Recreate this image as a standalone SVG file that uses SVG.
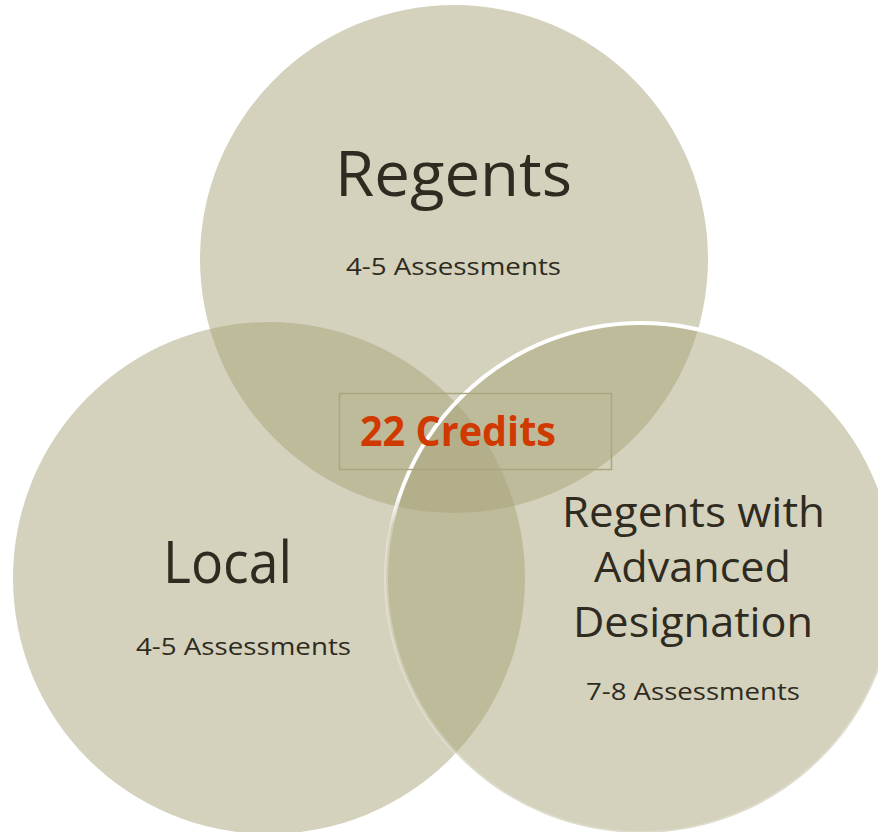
<svg xmlns="http://www.w3.org/2000/svg" width="878" height="832" viewBox="0 0 878 832">
  <defs>
    <linearGradient id="rimGrad" gradientUnits="userSpaceOnUse" x1="0" y1="320" x2="0" y2="835">
      <stop offset="0" stop-color="#ffffff" stop-opacity="1"/>
      <stop offset="0.34" stop-color="#ffffff" stop-opacity="1"/>
      <stop offset="0.40" stop-color="#ffffff" stop-opacity="0.3"/>
      <stop offset="1" stop-color="#ffffff" stop-opacity="0.2"/>
    </linearGradient>
  </defs>
  <style>
    .circ { fill: #A7A378; fill-opacity: 0.49; }
    .title { font-family: "Open Sans", "Liberation Sans", sans-serif; fill: #2F2B21; text-anchor: middle; }
    .sub { font-family: "Open Sans", "Liberation Sans", sans-serif; font-size: 24.5px; fill: #2F2B21; text-anchor: middle; }
    .center { font-family: "Open Sans", "Liberation Sans", sans-serif; font-weight: bold; font-size: 42px; fill: #D03A00; text-anchor: middle; }
  </style>
  <rect width="878" height="832" fill="#ffffff"/>
  <g id="regents">
    <circle class="circ" cx="454" cy="259" r="254"/>
    <text class="title" x="453.5" y="196" font-size="63" textLength="237" lengthAdjust="spacingAndGlyphs">Regents</text>
    <text class="sub" x="453.5" y="275" textLength="215" lengthAdjust="spacingAndGlyphs">4-5 Assessments</text>
  </g>
  <g id="local">
    <circle class="circ" cx="269" cy="578" r="256"/>
    <text class="title" x="227.5" y="583" font-size="59" textLength="129" lengthAdjust="spacingAndGlyphs">Local</text>
    <text class="sub" x="243.5" y="655" textLength="215" lengthAdjust="spacingAndGlyphs">4-5 Assessments</text>
  </g>
  <g id="advanced">
    <circle class="circ" cx="641" cy="578" r="255"/>
    <circle cx="641" cy="578" r="255" fill="none" stroke="url(#rimGrad)" stroke-width="4"/>
    <text class="title" x="693.5" y="527" font-size="42" textLength="263" lengthAdjust="spacingAndGlyphs">Regents with</text>
    <text class="title" x="692.5" y="582" font-size="42" textLength="197" lengthAdjust="spacingAndGlyphs">Advanced</text>
    <text class="title" x="693" y="637" font-size="42" textLength="240" lengthAdjust="spacingAndGlyphs">Designation</text>
    <text class="sub" x="693" y="700" textLength="214" lengthAdjust="spacingAndGlyphs">7-8 Assessments</text>
  </g>
  <g id="credits">
    <rect x="339.5" y="393.5" width="272" height="76" fill="none" stroke="#A9A67F" stroke-width="1.5"/>
    <text class="center" x="458" y="446" textLength="196" lengthAdjust="spacingAndGlyphs">22 Credits</text>
  </g>
  <g id="connectors"></g>
</svg>
